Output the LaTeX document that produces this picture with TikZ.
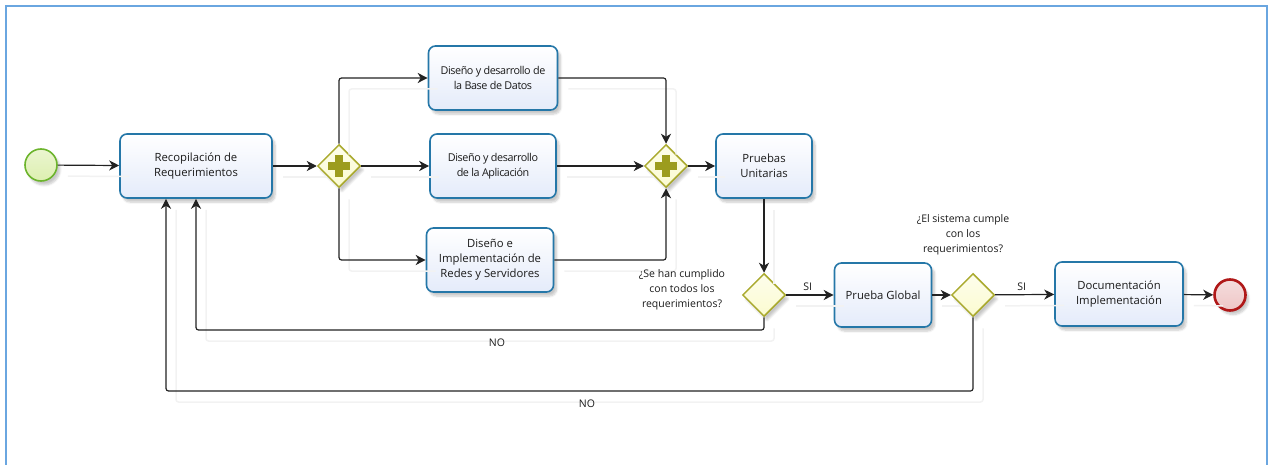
\documentclass[tikz,border=0pt]{standalone}
\usepackage{fontspec}
\setmainfont{Open Sans}
\usetikzlibrary{arrows.meta,shapes.geometric,shadows.blur,calc}

\definecolor{framec}{HTML}{6AA6E0}
\definecolor{taskborder}{HTML}{2577A8}
\definecolor{taskfill}{HTML}{E4EBFA}
\definecolor{gateborder}{HTML}{AAAA2E}
\definecolor{gatefill}{HTML}{FBFBD0}
\definecolor{plusc}{HTML}{9C9C1E}
\definecolor{startborder}{HTML}{6CB42C}
\definecolor{startfill}{HTML}{DDEFB0}
\definecolor{endborder}{HTML}{B01818}
\definecolor{endfill}{HTML}{EEC6C6}
\definecolor{linec}{HTML}{222222}
\definecolor{txtc}{HTML}{1A1A1A}

\begin{document}
\begin{tikzpicture}[x=1pt,y=-1pt,
  every node/.style={text=txtc, font=\fontsize{11.3}{15}\selectfont},
  softshadow/.style={blur shadow={shadow xshift=3pt, shadow yshift=-4pt, shadow blur steps=6, shadow opacity=22}},
  task/.style={draw=taskborder, line width=1.6pt, rounded corners=7pt,
    top color=white, bottom color=taskfill, align=center, inner sep=2pt,
    minimum height=64pt, softshadow},
  gate/.style={diamond, aspect=1, draw=gateborder, line width=1.5pt,
    top color=white!60!gatefill, bottom color=gatefill, minimum width=43pt,
    minimum height=43pt, inner sep=0pt, softshadow},
  startev/.style={circle, draw=startborder, line width=1.6pt, top color=white!40!startfill,
    bottom color=startfill, minimum size=32pt, inner sep=0pt, softshadow},
  endev/.style={circle, draw=endborder, line width=2.6pt, top color=white!40!endfill,
    bottom color=endfill, minimum size=31pt, inner sep=0pt, softshadow},
  turn/.style={rounded corners=2.5pt},
  flowshade/.style={draw=black!5, line width=1.5pt, rounded corners=2.5pt},
  flow/.style={draw=linec, line width=1.2pt,
    -{Stealth[length=10pt,width=10pt,inset=3pt]}},
  lbl/.style={align=center, font=\fontsize{10.5}{15}\selectfont},
  narrow/.style={font=\fontsize{10.8}{15}\selectfont\addfontfeature{LetterSpace=-4}}
]
\useasboundingbox (0,0) rectangle (1273,465);
\begin{scope}
  \clip (0,0) rectangle (1273,465);
  \draw[framec, line width=1.4pt] (6,6) rectangle (1267,490);
\end{scope}

% events
\node[startev] (start) at (41,165) {};
\node[endev] (stop) at (1230,295) {};

% tasks
\node[task, minimum width=152pt] (rec) at (196,166) {Recopilación de\\Requerimientos};
\node[task, minimum width=129pt, narrow] (tb) at (493,78) {Diseño y desarrollo de\\la Base de Datos};
\node[task, minimum width=126pt, narrow] (mb) at (493,166) {Diseño y desarrollo\\de la Aplicación};
\node[task, minimum width=127pt] (bb) at (490,260) {Diseño e\\Implementación de\\Redes y Servidores};
\node[task, minimum width=96pt] (pu) at (764,166) {Pruebas\\Unitarias};
\node[task, minimum width=97pt] (pg) at (883,295) {Prueba Global};
\node[task, minimum width=128pt] (doc) at (1119,294) {Documentación\\Implementación};

% gateways
\node[gate] (g1) at (339,166) {};
\node[gate] (g2) at (666,166) {};
\node[gate] (g3) at (764,295) {};
\node[gate] (g4) at (973,295) {};

% parallel markers
\foreach \g in {g1,g2}{
  \fill[plusc] ([shift={(-11pt,-4pt)}]\g.center) rectangle ([shift={(11pt,4pt)}]\g.center);
  \fill[plusc] ([shift={(-4pt,-11pt)}]\g.center) rectangle ([shift={(4pt,11pt)}]\g.center);
}

% turning points of the loops back to the start
\coordinate (n1) at (196,330);
\coordinate (n2) at (166,391);

% faint shadows of the sequence flows
\begin{scope}[transform canvas={shift={(10pt,-11pt)}}]
\draw[flowshade] (start) -- (rec);
\draw[flowshade] (rec) -- (g1);
\draw[flowshade] (g1.north) |- (tb.west);
\draw[flowshade] (g1) -- (mb);
\draw[flowshade] (g1.south) |- (bb.west);
\draw[flowshade] (tb.east) -| (g2.north);
\draw[flowshade] (mb) -- (g2);
\draw[flowshade] (bb.east) -| (g2.south);
\draw[flowshade] (g2) -- (pu);
\draw[flowshade] (pu) -- (g3);
\draw[flowshade] (g3) -- (pg);
\draw[flowshade] (g3.south) |- (n1) -- (rec.south);
\draw[flowshade] (pg) -- (g4);
\draw[flowshade] (g4) -- (doc);
\draw[flowshade] (g4.south) |- (n2) -- (rec.south -| n2);
\draw[flowshade] (doc) -- (stop);
\end{scope}

% sequence flows (corners rounded only along the path, tips stay sharp)
\draw[flow] (start) -- (rec);
\draw[flow] (rec) -- (g1);
\draw[flow] (g1.north) [turn] |- (tb.west) [sharp corners];
\draw[flow] (g1) -- (mb);
\draw[flow] (g1.south) [turn] |- (bb.west) [sharp corners];
\draw[flow] (tb.east) [turn] -| (g2.north) [sharp corners];
\draw[flow] (mb) -- (g2);
\draw[flow] (bb.east) [turn] -| (g2.south) [sharp corners];
\draw[flow] (g2) -- (pu);
\draw[flow] (pu) -- (g3);
\draw[flow] (g3) -- node[above, lbl, pos=0.45] {SI} (pg);
\draw[flow] (g3.south) [turn] |- (n1) -- (rec.south) [sharp corners];
\draw[flow] (pg) -- (g4);
\draw[flow] (g4) -- node[above, lbl, pos=0.45] {SI} (doc);
\draw[flow] (g4.south) [turn] |- (n2) -- (rec.south -| n2) [sharp corners];
\draw[flow] (doc) -- (stop);

% labels
\node[lbl] (no1) at (497,343) {NO};
\node[lbl] (no2) at (587,404) {NO};
\node[lbl] (q1) at (682,290) {¿Se han cumplido\\con todos los\\requerimientos?};
\node[lbl] (q2) at (963,235) {¿El sistema cumple\\con los\\requerimientos?};
\end{tikzpicture}
\end{document}
